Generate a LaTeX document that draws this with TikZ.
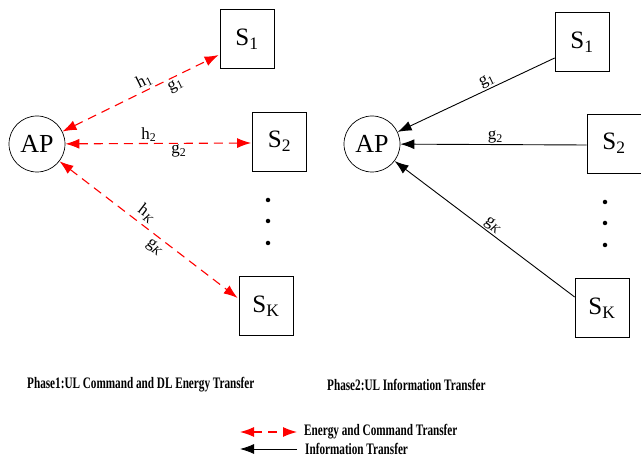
\documentclass[tikz,border=0pt]{standalone}
\usepackage{fontspec}
\setmainfont{Liberation Serif}
\usetikzlibrary{arrows.meta,calc}
\tikzset{
  apnode/.style={circle,draw,line width=0.7pt,minimum size=56pt,inner sep=0pt,font=\fontsize{26}{26}\selectfont},
  snode/.style={rectangle,draw,line width=0.7pt,minimum width=54pt,minimum height=59pt,inner sep=0pt,font=\fontsize{25}{25}\selectfont},
  energy/.style={red,line width=1.1pt,dash pattern=on 9pt off 6pt,{Latex[length=14pt,width=10pt]}-{Latex[length=14pt,width=10pt]}},
  info/.style={black,line width=0.9pt,-{Latex[length=14pt,width=10pt]}},
  lbl/.style={text=black,font=\fontsize{17}{17}\selectfont,inner sep=1pt,sloped},
  captxt/.style={font=\fontsize{16}{16}\selectfont\bfseries,inner sep=0pt,anchor=west},
  dotnode/.style={circle,fill,inner sep=0pt,minimum size=4.5pt}
}
\newcommand{\mysub}[1]{\textsubscript{#1}}
\begin{document}
\begin{tikzpicture}[x=1pt,y=-1pt]
\useasboundingbox (0,0) rectangle (641,457);
% left panel
\node[apnode] (apL) at (37,144) {AP};
\node[snode] (s1L) at (247,39) {S\mysub{1}};
\node[snode] (s2L) at (279.5,141.5) {S\mysub{2}};
\node[snode] (skL) at (266,306) {S\mysub{K}};
\node[dotnode] (d1L) at (268,200) {};
\node[dotnode] (d2L) at (268,221) {};
\node[dotnode] (d3L) at (268,243) {};
\draw[energy] (apL) -- ($(s1L.west)+(-1,16)$)
  node[lbl,pos=0.55,above=1pt] {h\mysub{1}} node[lbl,pos=0.7,below=1pt] {g\mysub{1}};
\draw[energy] (apL) -- ($(s2L.west)+(-1,1.5)$)
  node[lbl,pos=0.45,above=0pt] {h\mysub{2}} node[lbl,pos=0.61,below=0pt] {g\mysub{2}};
\draw[energy] (apL) -- ($(skL.west)+(-1,-8)$)
  node[lbl,pos=0.45,above=3pt] {h\mysub{\textit{K}}} node[lbl,pos=0.57,below=3pt] {g\mysub{\textit{K}}};
% right panel
\node[apnode] (apR) at (372,144) {AP};
\node[snode] (s1R) at (582,42) {S\mysub{1}};
\node[snode] (s2R) at (614,143.5) {S\mysub{2}};
\node[snode] (skR) at (602,308) {S\mysub{K}};
\node[dotnode] (d1R) at (605,202) {};
\node[dotnode] (d2R) at (605,223) {};
\node[dotnode] (d3R) at (605,245) {};
\draw[info] ($(s1R.west)+(0,16)$) -- (apR) node[lbl,pos=0.41,above=0pt] {g\mysub{1}};
\draw[info] ($(s2R.west)+(0,1.5)$) -- (apR) node[lbl,pos=0.49,above=0pt] {g\mysub{2}};
\draw[info] ($(skR.west)+(0,-11)$) -- (apR) node[lbl,pos=0.48,above=0pt] {g\mysub{\textit{K}}};
% captions
\node[captxt] (c1) at (27,385) {\scalebox{0.70}[1]{Phase1:UL Command and DL Energy Transfer}};
\node[captxt] (c2) at (327,385) {\scalebox{0.70}[1]{Phase2:UL Information Transfer}};
% legend
\coordinate (e1) at (240,432);
\coordinate (e2) at (297,432);
\coordinate (i1) at (240,449);
\coordinate (i2) at (297,449);
\draw[energy] (e1) -- (e2);
\draw[info] (i2) -- (i1);
\node[captxt] (t1) at (304,432) {\scalebox{0.70}[1]{Energy and Command Transfer}};
\node[captxt] (t2) at (305,449) {\scalebox{0.70}[1]{Information Transfer}};
\end{tikzpicture}
\end{document}
